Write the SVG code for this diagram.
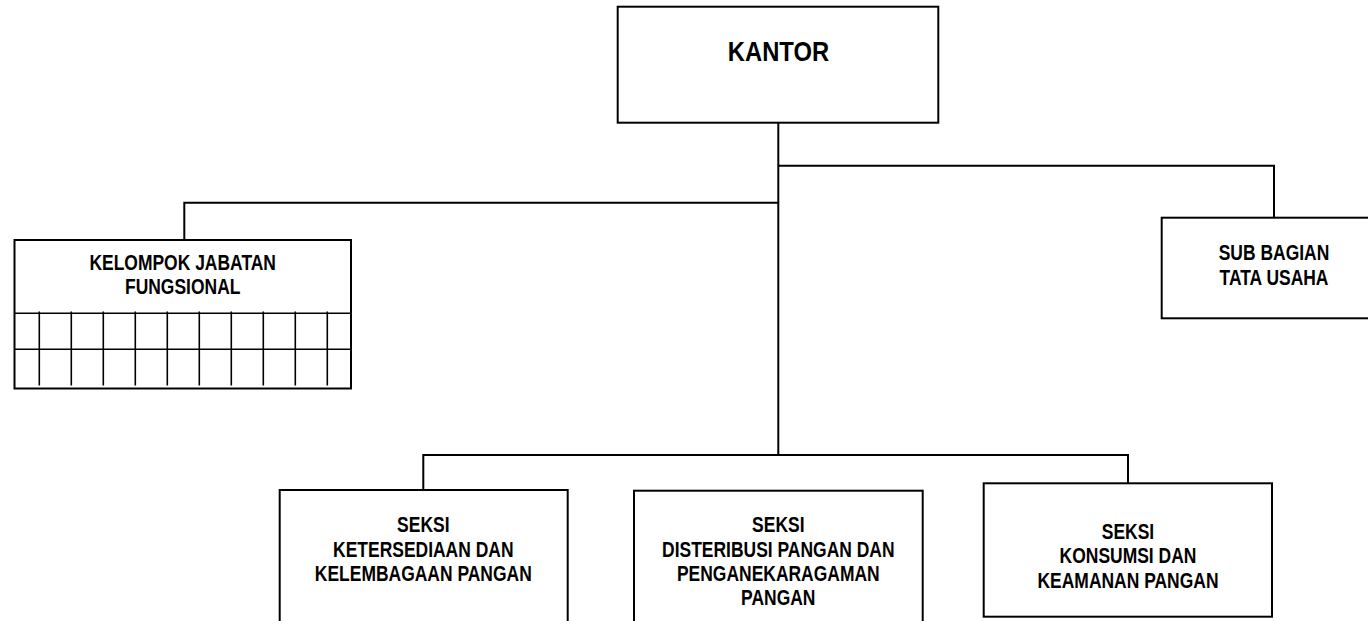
<svg xmlns="http://www.w3.org/2000/svg" width="1368" height="621" viewBox="0 0 1368 621">
<style>
  .box { fill: #ffffff; stroke: #000000; stroke-width: 2; }
  .grid { fill: none; stroke: #000000; stroke-width: 1.6; }
  .conn { fill: none; stroke: #000000; stroke-width: 2; }
  .lbl { font-family: "Liberation Sans", Arial, sans-serif; font-weight: bold; font-size: 21.3px; fill: #000000; text-anchor: middle; }
  .big { font-size: 28.5px; }
</style>
<rect width="1368" height="621" fill="#ffffff"/>
<g id="connectors">
  <path class="conn" d="M778.3 122.7 V455"/>
  <path class="conn" d="M778.3 165.7 H1274 V217.7"/>
  <path class="conn" d="M778.3 202.7 H184.3 V240"/>
  <path class="conn" d="M423.3 490 V455 H1128 V483.3"/>
</g>
<g id="kantor">
  <rect class="box" x="617.7" y="6.7" width="320.6" height="116"/>
  <g transform="translate(778.5 0) scale(0.835 1)">
    <text class="lbl big" x="0" y="61">KANTOR</text>
  </g>
</g>
<g id="kelompok">
  <rect class="box" x="14.5" y="240" width="336.5" height="148.5"/>
  <path class="grid" d="M14.5 313.3 H351 M14.5 349.3 H351 M39.3 311.5 V385.5 M71.3 311.5 V385.5 M103.3 311.5 V385.5 M135.3 311.5 V385.5 M167.3 311.5 V385.5 M199.3 311.5 V385.5 M231.3 311.5 V385.5 M263.3 311.5 V385.5 M295.3 311.5 V385.5 M327.3 311.5 V385.5"/>
  <g transform="translate(182.7 0) scale(0.82 1)">
    <text class="lbl" x="0" y="270">KELOMPOK JABATAN</text>
    <text class="lbl" x="0" y="294.3">FUNGSIONAL</text>
  </g>
</g>
<g id="subbagian">
  <rect class="box" x="1161.7" y="217.7" width="210" height="100.6"/>
  <g transform="translate(1274 0) scale(0.82 1)">
    <text class="lbl" x="0" y="260.3">SUB BAGIAN</text>
    <text class="lbl" x="0" y="284.6">TATA USAHA</text>
  </g>
</g>
<g id="seksi-ketersediaan">
  <rect class="box" x="279.7" y="490" width="288" height="140"/>
  <g transform="translate(423.3 0) scale(0.82 1)">
    <text class="lbl" x="0" y="532.3">SEKSI</text>
    <text class="lbl" x="0" y="557">KETERSEDIAAN DAN</text>
    <text class="lbl" x="0" y="581.5">KELEMBAGAAN PANGAN</text>
  </g>
</g>
<g id="seksi-distribusi">
  <rect class="box" x="634" y="490.7" width="288.7" height="140"/>
  <g transform="translate(778.3 0) scale(0.82 1)">
    <text class="lbl" x="0" y="532.3">SEKSI</text>
    <text class="lbl" x="0" y="556.7">DISTERIBUSI PANGAN DAN</text>
    <text class="lbl" x="0" y="581">PENGANEKARAGAMAN</text>
    <text class="lbl" x="0" y="605.5">PANGAN</text>
  </g>
</g>
<g id="seksi-konsumsi">
  <rect class="box" x="983.7" y="483.3" width="288.3" height="133.4"/>
  <g transform="translate(1128 0) scale(0.82 1)">
    <text class="lbl" x="0" y="539">SEKSI</text>
    <text class="lbl" x="0" y="563.5">KONSUMSI DAN</text>
    <text class="lbl" x="0" y="588">KEAMANAN PANGAN</text>
  </g>
</g>
</svg>
